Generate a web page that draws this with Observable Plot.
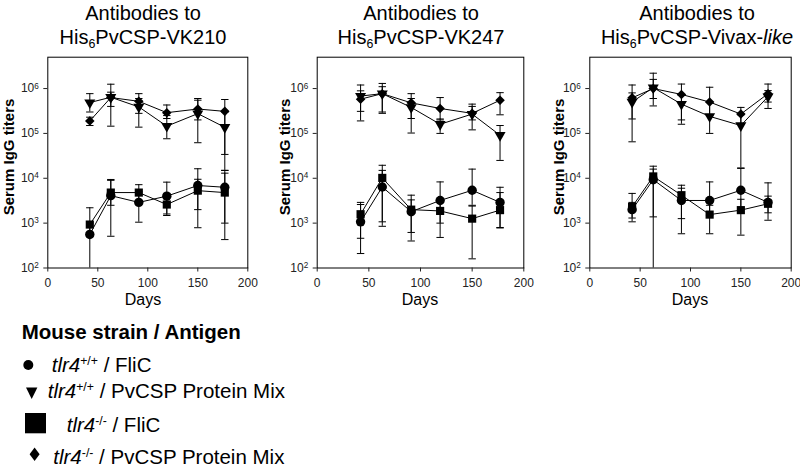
<!DOCTYPE html>
<html><head><meta charset="utf-8">
<script src="https://cdn.jsdelivr.net/npm/d3@7"></script>
<script src="https://cdn.jsdelivr.net/npm/@observablehq/plot@0.6"></script>
<style>
body{margin:0;background:#fff;font-family:"Liberation Sans",Arial,sans-serif;color:#000}
#wrap{position:relative;width:800px;height:467px;overflow:hidden;background:#fff}
.panel{position:absolute;top:48px}
.panel svg{overflow:visible;background:none}
.title{position:absolute;top:1px;transform:translateX(-50%);text-align:center;font-size:20px;line-height:24px;white-space:nowrap}
.title sub{font-size:0.62em;line-height:0;vertical-align:-0.3em}
.ylab{position:absolute;top:157px;transform:translate(-50%,-50%) rotate(-90deg);font-size:15px;font-weight:bold;white-space:nowrap;line-height:15px}
.xlab{position:absolute;top:292px;transform:translateX(-50%);font-size:16px;line-height:16px;white-space:nowrap}
.leg{position:absolute;font-size:20.5px;line-height:20px;white-space:nowrap}
.leg sup{font-size:0.6em;line-height:0;vertical-align:0.55em}
.legsym{position:absolute;left:0;top:0}
</style>
</head><body>
<div id="wrap"></div>
<script>
// ---------- data ----------
const days = [42, 63, 91, 119, 150, 177];
const xTicks = [0, 50, 100, 150, 200];
const yTicks = [1e2, 1e3, 1e4, 1e5, 1e6];

// His6PvCSP-VK210
const vk210_wtFliC    = [560, 4100, 2900, 4000, 6900, 6300];
const vk210_wtFliC_lo = [100, 510, 1050, 1480, 790, 430];
const vk210_wtFliC_hi = [1000, 9400, 5000, 8200, 16300, 15000];
const vk210_wtMix     = [487000, 640000, 390000, 145000, 276000, 137000];
const vk210_wtMix_lo  = [300000, 145000, 138000, 76000, 62000, 15000];
const vk210_wtMix_hi  = [770000, 1250000, 600000, 250000, 600000, 300000];
const vk210_koFliC    = [930, 4800, 4800, 2600, 5300, 4800];
const vk210_koFliC_lo = [500, 2500, 3000, 1600, 2000, 1000];
const vk210_koFliC_hi = [2200, 9000, 7200, 4500, 9500, 13000];
const vk210_koMix     = [189000, 630000, 520000, 290000, 350000, 310000];
const vk210_koMix_lo  = [150000, 400000, 280000, 215000, 200000, 34000];
const vk210_koMix_hi  = [230000, 830000, 770000, 430000, 550000, 570000];

// His6PvCSP-VK247
const vk247_wtFliC    = [1070, 6400, 1800, 3200, 5400, 2900];
const vk247_wtFliC_lo = [210, 1070, 400, 480, 2500, 780];
const vk247_wtFliC_hi = [2900, 19500, 3300, 8300, 16000, 4800];
const vk247_wtMix     = [680000, 770000, 380000, 160000, 270000, 91000];
const vk247_wtMix_lo  = [190000, 280000, 102000, 100000, 200000, 25000];
const vk247_wtMix_hi  = [1200000, 1300000, 600000, 210000, 400000, 150000];
const vk247_koFliC    = [1580, 10200, 2000, 1870, 1260, 1950];
const vk247_koFliC_lo = [460, 850, 620, 1000, 160, 800];
const vk247_koFliC_hi = [2600, 15000, 4200, 3000, 2400, 6300];
const vk247_koMix     = [580000, 770000, 480000, 360000, 280000, 550000];
const vk247_koMix_lo  = [310000, 300000, 215000, 200000, 120000, 260000];
const vk247_koMix_hi  = [890000, 1100000, 770000, 630000, 450000, 810000];

// His6PvCSP-Vivax-like
const vl_wtFliC    = [2000, 9300, 3200, 3200, 5400, 2900];
const vl_wtFliC_lo = [1070, 100, 580, 1500, 2000, 1160];
const vl_wtFliC_hi = [4600, 16000, 6000, 8300, 16600, 7900];
const vl_wtMix     = [500000, 1050000, 450000, 240000, 150000, 660000];
const vl_wtMix_lo  = [65000, 410000, 160000, 100000, 17000, 360000];
const vl_wtMix_hi  = [800000, 1600000, 700000, 500000, 260000, 900000];
const vl_koFliC    = [2300, 11000, 4200, 1550, 1950, 2700];
const vl_koFliC_lo = [1300, 1380, 1260, 580, 540, 1700];
const vl_koFliC_hi = [2900, 18600, 7000, 2500, 3400, 4000];
const vl_koMix     = [620000, 1000000, 740000, 500000, 270000, 770000];
const vl_koMix_lo  = [210000, 600000, 200000, 250000, 160000, 500000];
const vl_koMix_hi  = [1200000, 2200000, 1260000, 1070000, 380000, 1260000];

const seriesNames = ["tlr4+/+ / FliC", "tlr4+/+ / PvCSP Protein Mix", "tlr4-/- / FliC", "tlr4-/- / PvCSP Protein Mix"];
const titlesHTML = ["Antibodies to<br>His<sub>6</sub>PvCSP-VK210", "Antibodies to<br>His<sub>6</sub>PvCSP-VK247", "Antibodies to<br>His<sub>6</sub>PvCSP-Vivax-<i>like</i>"];

// ---------- build ----------
const symDefs = [
  {symbol: "circle", r: 4.7, rotate: 0},
  {symbol: "triangle", r: 4.1, rotate: 180},
  {symbol: "square", r: 4.6, rotate: 0},
  {symbol: "diamond2", r: 4.3, rotate: 0}
];
const panelsData = [
  [[vk210_wtFliC, vk210_wtFliC_lo, vk210_wtFliC_hi], [vk210_wtMix, vk210_wtMix_lo, vk210_wtMix_hi], [vk210_koFliC, vk210_koFliC_lo, vk210_koFliC_hi], [vk210_koMix, vk210_koMix_lo, vk210_koMix_hi]],
  [[vk247_wtFliC, vk247_wtFliC_lo, vk247_wtFliC_hi], [vk247_wtMix, vk247_wtMix_lo, vk247_wtMix_hi], [vk247_koFliC, vk247_koFliC_lo, vk247_koFliC_hi], [vk247_koMix, vk247_koMix_lo, vk247_koMix_hi]],
  [[vl_wtFliC, vl_wtFliC_lo, vl_wtFliC_hi], [vl_wtMix, vl_wtMix_lo, vl_wtMix_hi], [vl_koFliC, vl_koFliC_lo, vl_koFliC_hi], [vl_koMix, vl_koMix_lo, vl_koMix_hi]]
];
const layout = [
  {left: 0, width: 265, mL: 47.3, mR: 17.7, tx: 143, yl: 8, xl: 143},
  {left: 265, width: 270, mL: 51.7, mR: 11.7, tx: 421, yl: 284, xl: 420},
  {left: 535, width: 265, mL: 54.3, mR: 9.3, tx: 697, yl: 557.5, xl: 690}
];
const capSymbol = {draw(ctx) { ctx.moveTo(-3.7, 0); ctx.lineTo(3.7, 0); }};
const wrap = document.getElementById("wrap");

panelsData.forEach((pd, pi) => {
  const L = layout[pi];
  const rows = [];
  pd.forEach((s, si) => {
    days.forEach((d, i) => rows.push({day: d, v: s[0][i], lo: s[1][i], hi: s[2][i], series: seriesNames[si], si}));
  });
  const marks = [
    Plot.ruleX(rows, {x: "day", y1: "lo", y2: "hi", stroke: "#000", strokeWidth: 1}),
    Plot.dot(rows.filter(d => d.lo > 100), {x: "day", y: "lo", symbol: capSymbol, r: 2, stroke: "#000", fill: "none", strokeWidth: 1}),
    Plot.dot(rows, {x: "day", y: "hi", symbol: capSymbol, r: 2, stroke: "#000", fill: "none", strokeWidth: 1}),
    Plot.line(rows, {x: "day", y: "v", z: "series", stroke: "#000", strokeWidth: 1}),
    ...symDefs.map((sd, si) => Plot.dot(rows.filter(d => d.si === si), {x: "day", y: "v", symbol: sd.symbol, r: sd.r, rotate: sd.rotate, fill: "#000", stroke: "none"})),
    Plot.frame({stroke: "#000", strokeWidth: 1}),
    Plot.axisX({ticks: xTicks, tickSize: 4, tickPadding: 6, label: null, fontSize: 12}),
    Plot.axisY({ticks: yTicks, tickSize: 4, tickPadding: 5, label: null, fontSize: 12, tickFormat: d => "10^" + Math.round(Math.log10(d))})
  ];
  const svg = Plot.plot({
    width: L.width, height: 262,
    marginLeft: L.mL, marginRight: L.mR, marginTop: 8.7, marginBottom: 42.5,
    x: {domain: [0, 200]},
    y: {type: "log", domain: [100, 5e6]},
    style: {fontFamily: "'Liberation Sans', Arial, sans-serif", fontSize: "12px", color: "#222", background: "none"},
    marks
  });
  // superscript exponents on y tick labels
  d3.select(svg).selectAll("text").each(function () {
    const t = this.textContent;
    const m = /^10\^(\d)$/.exec(t);
    if (m) {
      const sel = d3.select(this);
      sel.text(null);
      sel.append("tspan").text("10");
      sel.append("tspan").attr("dy", "-0.45em").attr("font-size", "0.68em").text(m[1]);
    }
  });
  const holder = document.createElement("div");
  holder.className = "panel";
  holder.style.left = L.left + "px";
  holder.appendChild(svg);
  wrap.appendChild(holder);

  const t = document.createElement("div");
  t.className = "title"; t.style.left = L.tx + "px"; t.innerHTML = titlesHTML[pi];
  wrap.appendChild(t);
  const yl = document.createElement("div");
  yl.className = "ylab"; yl.style.left = L.yl + "px"; yl.textContent = "Serum IgG titers";
  wrap.appendChild(yl);
  const xl = document.createElement("div");
  xl.className = "xlab"; xl.style.left = L.xl + "px"; xl.textContent = "Days";
  wrap.appendChild(xl);
});

// ---------- legend ----------
const legendTitle = "Mouse strain / Antigen";
const legRows = [
  {html: "<i>tlr4</i><sup>+/+</sup> / FliC", left: 51.7, top: 355},
  {html: "<i>tlr4</i><sup>+/+</sup> / PvCSP Protein Mix", left: 47.7, top: 381},
  {html: "<i>tlr4</i><sup>-/-</sup> / FliC", left: 66.7, top: 415},
  {html: "<i>tlr4</i><sup>-/-</sup> / PvCSP Protein Mix", left: 53.3, top: 447}
];
const lt = document.createElement("div");
lt.className = "leg"; lt.style.left = "21.7px"; lt.style.top = "322px"; lt.style.fontWeight = "bold";
lt.textContent = legendTitle;
wrap.appendChild(lt);
legRows.forEach(r => {
  const d = document.createElement("div");
  d.className = "leg"; d.style.left = r.left + "px"; d.style.top = r.top + "px"; d.innerHTML = r.html;
  wrap.appendChild(d);
});
const ls = d3.select(wrap).append("svg").attr("class", "legsym").attr("width", 800).attr("height", 467);
ls.append("circle").attr("cx", 28.3).attr("cy", 365).attr("r", 5).attr("fill", "#000");
ls.append("path").attr("d", "M26,387.5L37.4,387.5L31.7,399Z").attr("fill", "#000");
ls.append("rect").attr("x", 25).attr("y", 413).attr("width", 21).attr("height", 20.3).attr("fill", "#000");
ls.append("path").attr("d", "M34.6,447.5L39.6,454.2L34.6,460.9L29.6,454.2Z").attr("fill", "#000");
</script>
</body></html>
